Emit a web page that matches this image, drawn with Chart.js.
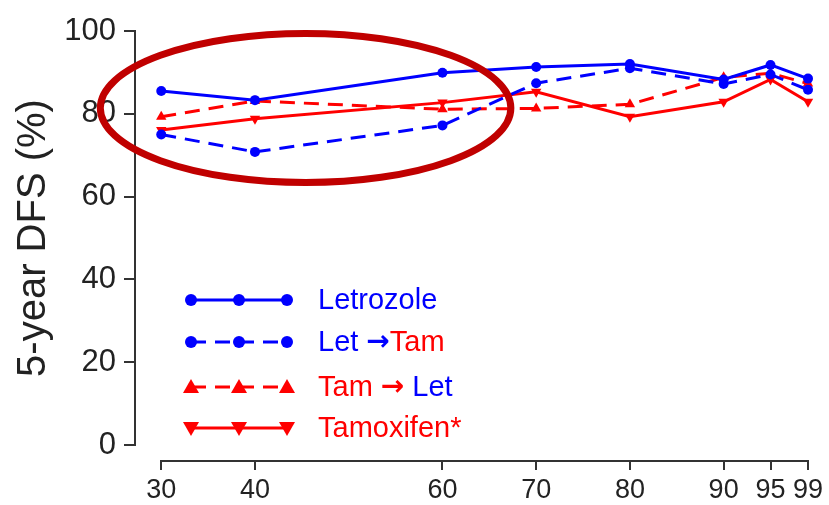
<!DOCTYPE html>
<html>
<head>
<meta charset="utf-8">
<script src="https://cdn.jsdelivr.net/npm/chart.js@4.4.0/dist/chart.umd.min.js"></script>
<style>
  html, body { margin: 0; padding: 0; background: #fff; }
  #wrap { width: 829px; height: 505px; }
</style>
</head>
<body>
<div id="wrap"><canvas id="dfs-chart"></canvas></div>
<script>
// Data
var percentiles = [30, 40, 60, 70, 80, 90, 95, 99];
var letrozole   = [85.5, 83.3, 89.9, 91.3, 92.0, 88.3, 91.8, 88.5];
var letTam      = [75.0, 70.8, 77.2, 87.4, 91.0, 87.2, 89.5, 85.8];
var tamLet      = [79.3, 83.1, 81.1, 81.3, 82.3, 88.8, 89.8, 87.3];
var tamoxifen   = [76.1, 78.8, 82.7, 85.3, 79.3, 82.9, 88.3, 82.9];
var yTicks      = [0, 20, 40, 60, 80, 100];
var seriesNames = ["Letrozole", "Let \u2192Tam", "Tam \u2192 Let", "Tamoxifen*"];

var BLUE = '#0000ff', RED = '#ff0000';
var TXT = '29px Arial, "Liberation Sans", sans-serif';
var ARROW = 'bold 28px "DejaVu Sans", sans-serif';

// legend text pieces (two-colour labels): text, colour, font
var legendParts = [
  [[seriesNames[0], BLUE, TXT]],
  [["Let ", BLUE, TXT], ["\u2192", BLUE, ARROW], ["Tam", RED, TXT]],
  [["Tam ", RED, TXT], ["\u2192", RED, ARROW], [" Let", BLUE, TXT]],
  [[seriesNames[3], RED, TXT]]
];

// the circled region, in data units: centre x, centre y, half-width, half-height
var circled = { x: 45.4, y: 81.4, rx: 21.9, ry: 18 };

function pts(vals) {
  return percentiles.map(function (p, i) { return { x: p, y: vals[i] }; });
}

function drawMarker(ctx, style, rot, x, y, r, color) {
  ctx.fillStyle = color;
  ctx.beginPath();
  if (style === 'circle') {
    ctx.arc(x, y, r, 0, Math.PI * 2);
  } else {
    var s = rot ? -1 : 1;
    ctx.moveTo(x, y - s * r);
    ctx.lineTo(x + r, y + s * r * 0.75);
    ctx.lineTo(x - r, y + s * r * 0.75);
    ctx.closePath();
  }
  ctx.fill();
}

var extras = {
  id: 'extras',
  afterDraw: function (chart) {
    var ctx = chart.ctx, xs = chart.scales.x, ys = chart.scales.y;
    var area = chart.chartArea;
    ctx.save();

    // detached x axis
    var axisY = area.bottom + 16;
    ctx.strokeStyle = '#333';
    ctx.lineWidth = 2;
    ctx.beginPath();
    ctx.moveTo(xs.getPixelForValue(percentiles[0]), axisY);
    ctx.lineTo(xs.getPixelForValue(percentiles[percentiles.length - 1]), axisY);
    percentiles.forEach(function (p) {
      var px = Math.round(xs.getPixelForValue(p));
      ctx.moveTo(px, axisY - 1);
      ctx.lineTo(px, axisY + 9);
    });
    ctx.stroke();

    // red ellipse
    var cx = xs.getPixelForValue(circled.x), cy = ys.getPixelForValue(circled.y);
    var rx = xs.getPixelForValue(circled.x + circled.rx) - cx;
    var ry = cy - ys.getPixelForValue(circled.y + circled.ry);
    ctx.strokeStyle = '#c00000';
    ctx.lineWidth = 7;
    ctx.beginPath();
    ctx.ellipse(cx, cy, rx, ry, 0, 0, Math.PI * 2);
    ctx.stroke();

    // legend
    var rowY = [300, 342, 387, 428];
    var mx = [191, 239, 287];
    chart.data.datasets.forEach(function (ds, i) {
      var y = rowY[i];
      ctx.strokeStyle = ds.borderColor;
      ctx.lineWidth = ds.borderWidth;
      ctx.setLineDash(ds.borderDash || []);
      ctx.beginPath();
      ctx.moveTo(mx[0], y);
      ctx.lineTo(mx[2], y);
      ctx.stroke();
      ctx.setLineDash([]);
      mx.forEach(function (x) {
        drawMarker(ctx, ds.pointStyle, ds.pointRotation, x, y, ds.pointStyle === 'circle' ? 6 : 8, ds.borderColor);
      });
      ctx.textBaseline = 'middle';
      ctx.textAlign = 'left';
      var tx = 318;
      legendParts[i].forEach(function (part) {
        ctx.font = part[2];
        ctx.fillStyle = part[1];
        ctx.fillText(part[0], tx, y + 1);
        tx += ctx.measureText(part[0]).width;
      });
    });
    ctx.restore();
  }
};

function series(label, vals, color, dashed, style, rot) {
  return {
    label: label,
    data: pts(vals),
    borderColor: color,
    backgroundColor: color,
    borderWidth: 3,
    borderDash: dashed ? [15, 9] : [],
    pointStyle: style,
    pointRotation: rot,
    pointRadius: style === 'circle' ? 5 : 6,
    pointBorderWidth: 0,
    tension: 0,
    clip: false
  };
}

var ctx = document.getElementById('dfs-chart');

new Chart(ctx, {
  type: 'line',
  data: {
    datasets: [
      series(seriesNames[0], letrozole, BLUE, false, 'circle', 0),
      series(seriesNames[1], letTam, BLUE, true, 'circle', 0),
      series(seriesNames[2], tamLet, RED, true, 'triangle', 0),
      series(seriesNames[3], tamoxifen, RED, false, 'triangle', 180)
    ]
  },
  options: {
    responsive: true,
    maintainAspectRatio: false,
    animation: false,
    layout: { padding: { top: 31, right: 21, bottom: 0, left: 0 } },
    plugins: { legend: { display: false }, tooltip: { enabled: false } },
    scales: {
      x: {
        type: 'linear',
        min: 27.2,
        max: 99,
        afterBuildTicks: function (s) {
          s.ticks = percentiles.map(function (v) { return { value: v }; });
        },
        afterFit: function (s) { s.height = 60; },
        border: { display: false },
        grid: { drawOnChartArea: false, tickLength: 25, color: 'rgba(0,0,0,0)' },
        ticks: {
          autoSkip: false,
          maxRotation: 0,
          padding: 4,
          color: '#222',
          font: { family: 'Arial, "Liberation Sans", sans-serif', size: 27 }
        }
      },
      y: {
        min: 0,
        max: 100,
        afterBuildTicks: function (s) {
          s.ticks = yTicks.map(function (v) { return { value: v }; });
        },
        afterFit: function (s) { s.width = 135; },
        border: { color: '#333', width: 2 },
        grid: { drawOnChartArea: false, tickLength: 11, color: '#333', lineWidth: 2 },
        ticks: {
          padding: 8,
          color: '#222',
          font: { family: 'Arial, "Liberation Sans", sans-serif', size: 31 }
        },
        title: {
          display: true,
          text: '5-year DFS (%)',
          color: '#222',
          padding: { top: 10, bottom: 0 },
          font: { family: 'Arial, "Liberation Sans", sans-serif', size: 40 }
        }
      }
    }
  },
  plugins: [extras]
});
</script>
</body>
</html>
